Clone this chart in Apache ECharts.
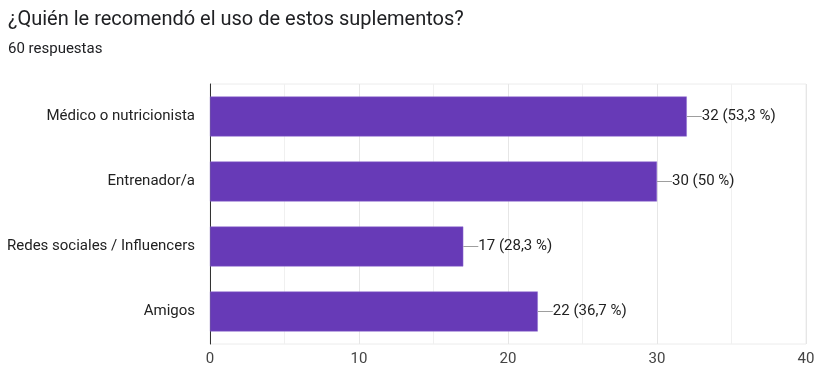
<!DOCTYPE html>
<html>
<head>
<meta charset="utf-8">
<script src="https://cdn.jsdelivr.net/npm/echarts@6/dist/echarts.min.js"></script>
<style>
  html, body { margin: 0; padding: 0; background: #fff; }
  #chart { width: 818px; height: 376px; }
</style>
</head>
<body>
<div id="chart"></div>
<script>
// datos
const categorias = ['Médico o nutricionista', 'Entrenador/a', 'Redes sociales / Influencers', 'Amigos'];
const valores = [32, 30, 17, 22];
const porcentajes = ['53,3', '50', '28,3', '36,7'];
const totalRespuestas = 60;

const chart = echarts.init(document.getElementById('chart'));

chart.setOption({
  animation: false,
  title: [
    {
      text: '¿Quién le recomendó el uso de estos suplementos?',
      left: 8, top: 10, padding: 0,
      textStyle: { fontFamily: 'Roboto', fontSize: 20, fontWeight: 'normal', color: '#202124' }
    },
    {
      text: totalRespuestas + ' respuestas',
      left: 8, top: 42, padding: 0,
      textStyle: { fontFamily: 'Roboto', fontSize: 15, fontWeight: 'normal', color: '#202124' }
    }
  ],
  grid: {
    left: 210, right: 12, top: 84, bottom: 32,
    show: true, borderColor: '#ececec', borderWidth: 1
  },
  xAxis: {
    type: 'value',
    min: 0, max: 40, interval: 10,
    axisLine: { show: false },
    axisTick: { show: false },
    axisLabel: { fontFamily: 'Roboto', fontSize: 15, color: '#444', margin: 8 },
    splitLine: { lineStyle: { color: '#e6e6e6' } },
    minorTick: { show: false, splitNumber: 2 },
    minorSplitLine: { show: true, lineStyle: { color: '#f0f0f0' } }
  },
  yAxis: {
    type: 'category',
    data: categorias,
    inverse: true,
    axisLine: { show: true, lineStyle: { color: '#333', width: 1 } },
    axisTick: { show: false },
    axisLabel: { fontFamily: 'Roboto', fontSize: 15, color: '#222', margin: 15 }
  },
  series: [{
    type: 'bar',
    data: valores,
    barWidth: 40,
    itemStyle: { color: '#673ab7', borderColor: '#8f6fd0', borderWidth: 0.5 },
    label: {
      show: true,
      position: 'right',
      distance: 0,
      formatter: p => '{l| }{v|' + valores[p.dataIndex] + ' (' + porcentajes[p.dataIndex] + ' %)}',
      rich: {
        l: { width: 15, height: 1, backgroundColor: '#9e9e9e' },
        v: { fontFamily: 'Roboto', fontSize: 15, color: '#222', padding: [0, 0, 0, 0] }
      }
    }
  }]
});
</script>
</body>
</html>
